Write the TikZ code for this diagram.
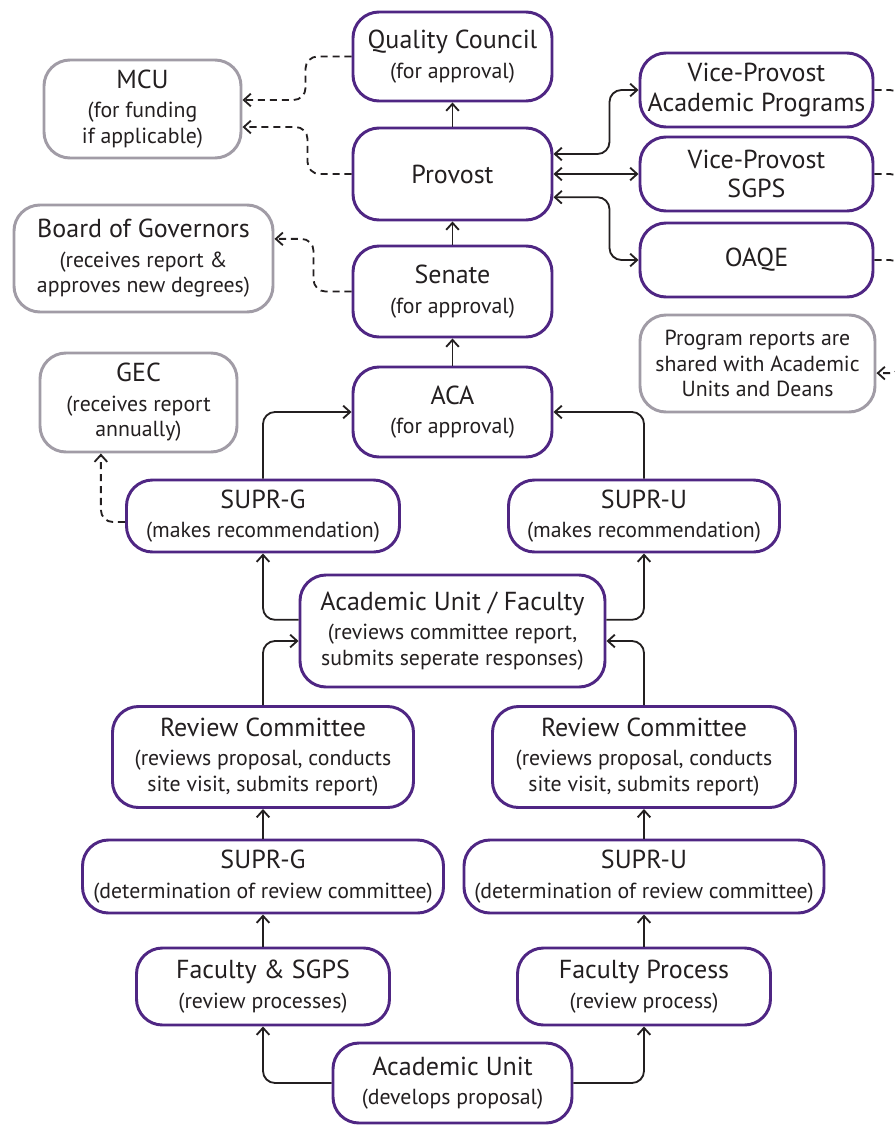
\documentclass[tikz,border=0pt]{standalone}
\usepackage{fontspec}
\setmainfont{PT Sans}
\usetikzlibrary{arrows.meta}

\definecolor{uwpurple}{HTML}{4F2683}
\definecolor{notegrey}{HTML}{A19CA6}
\definecolor{inkgrey}{HTML}{231F20}

\newcommand{\hd}[1]{{\fontsize{18.5}{22}\selectfont #1}}

\tikzset{
  stage/.style={draw=uwpurple, line width=2.1pt, rounded corners=0.65cm, align=center,
    inner sep=0pt, text=inkgrey, font=\fontsize{15.5}{18}\selectfont},
  note/.style={stage, draw=notegrey},
  wh/.style 2 args={minimum width=#1*0.025cm, minimum height=#2*0.025cm},
  flow/.style={-{Straight Barb[length=5pt,width=9pt]}, line width=1.3pt,
    rounded corners=0.3cm, draw=inkgrey},
  twoway/.style={flow, {Straight Barb[length=5pt,width=9pt]}-{Straight Barb[length=5pt,width=9pt]}},
  dashflow/.style={flow, dash pattern=on 5pt off 3.5pt},
  dashline/.style={dashflow, -},
}

\begin{document}
\begin{tikzpicture}[x=0.025cm, y=-0.025cm]
  \path[use as bounding box, fill=white] (0,0) rectangle (895,1126);

  % approval chain
  \node[stage, wh={199}{89}] (qc) at (452.5,56.5) {\hd{Quality Council}\\[3pt](for approval)};
  \node[stage, wh={199}{92}] (provost) at (452.5,174) {\hd{Provost}};
  \node[stage, wh={199}{91}] (senate) at (452.5,291.5) {\hd{Senate}\\[3pt](for approval)};
  \node[stage, wh={199}{90}] (aca) at (452.5,412) {\hd{ACA}\\[3pt](for approval)};

  % side notes
  \node[note, wh={197}{98}] (mcu) at (142.5,109) {\hd{MCU}\\[3pt](for funding\\if applicable)};
  \node[note, wh={259}{107}] (board) at (143.5,258.5) {\hd{Board of Governors}\\[3pt](receives report \&\\approves new degrees)};
  \node[note, wh={197}{99}] (gec) at (138.5,402.5) {\hd{GEC}\\[3pt](receives report\\annually)};
  \node[note, wh={235}{97}] (reports) at (757.5,363.5) {Program reports are\\shared with Academic\\Units and Deans};

  \node[stage, wh={233}{74}] (vpap) at (756.5,90) {\hd{Vice-Provost}\\[3pt]\hd{Academic Programs}};
  \node[stage, wh={233}{74}] (vpsgps) at (756.5,174) {\hd{Vice-Provost}\\[3pt]\hd{SGPS}};
  \node[stage, wh={233}{74}] (oaqe) at (756.5,260) {\hd{OAQE}};

  % review process
  \node[stage, wh={273}{72}] (suprgt) at (263,516) {\hd{SUPR-G}\\[3pt](makes recommendation)};
  \node[stage, wh={271}{72}] (suprut) at (644,516) {\hd{SUPR-U}\\[3pt](makes recommendation)};
  \node[stage, wh={305}{112}] (auf) at (452.5,631) {\hd{Academic Unit / Faculty}\\[3pt](reviews committee report,\\submits seperate responses)};
  \node[stage, wh={301}{101}] (rcg) at (263,757) {\hd{Review Committee}\\[3pt](reviews proposal, conducts\\site visit, submits report)};
  \node[stage, wh={303}{101}] (rcu) at (644,757) {\hd{Review Committee}\\[3pt](reviews proposal, conducts\\site visit, submits report)};
  \node[stage, wh={361}{73}] (suprgd) at (263,876.5) {\hd{SUPR-G}\\[3pt](determination of review committee)};
  \node[stage, wh={360}{73}] (suprud) at (644,876.5) {\hd{SUPR-U}\\[3pt](determination of review committee)};
  \node[stage, wh={253}{77}] (fsgps) at (263,986.5) {\hd{Faculty \& SGPS}\\[3pt](review processes)};
  \node[stage, wh={253}{77}] (fproc) at (644,986.5) {\hd{Faculty Process}\\[3pt](review process)};
  \node[stage, wh={239}{80}] (au) at (452.5,1083) {\hd{Academic Unit}\\[3pt](develops proposal)};

  \coordinate (apout) at (902,130);
  \coordinate (sgpsout) at (902,215);
  \coordinate (oaqeout) at (902,300);
  \coordinate (repin) at (902,320);

  \draw[flow] (au.west) -| (fsgps.south);
  \draw[flow] (au.east) -| (fproc.south);
  \draw[flow] (fsgps) -- (suprgd);
  \draw[flow] (fproc) -- (suprud);
  \draw[flow] (suprgd) -- (rcg);
  \draw[flow] (suprud) -- (rcu);
  \draw[flow] (rcg.north) |- ([yshift=-0.25cm]auf.west);
  \draw[flow] (rcu.north) |- ([yshift=-0.25cm]auf.east);
  \draw[flow] ([yshift=0.28cm]auf.west) -| (suprgt.south);
  \draw[flow] ([yshift=0.28cm]auf.east) -| (suprut.south);
  \draw[flow] (suprgt.north) |- (aca.west);
  \draw[flow] (suprut.north) |- (aca.east);
  \draw[flow] (aca) -- (senate);
  \draw[flow] (senate) -- (provost);
  \draw[flow] (provost) -- (qc);

  \draw[twoway] ([yshift=0.5cm]provost.east) -- ++(56,0) |- (vpap.west);
  \draw[twoway] (provost.east) -- (vpsgps.west);
  \draw[twoway] ([yshift=-0.58cm]provost.east) -- ++(56,0) |- (oaqe.west);

  \draw[dashflow] (qc.west) -- ++(-46,0) |- ([yshift=0.225cm]mcu.east);
  \draw[dashflow] (provost.west) -- ++(-44,0) |- ([yshift=-0.45cm]mcu.east);
  \draw[dashflow] (senate.west) -- ++(-38,0) |- ([yshift=0.49cm]board.east);
  \draw[dashflow] ([yshift=-0.15cm]suprgt.west) -| ([xshift=-0.94cm]gec.south);

  \draw[dashline] (vpap.east) -| (apout);
  \draw[dashline] (vpsgps.east) -| (sgpsout);
  \draw[dashline] (oaqe.east) -| (oaqeout);
  \draw[dashflow] (repin) |- ([yshift=-0.24cm]reports.east);
\end{tikzpicture}
\end{document}
